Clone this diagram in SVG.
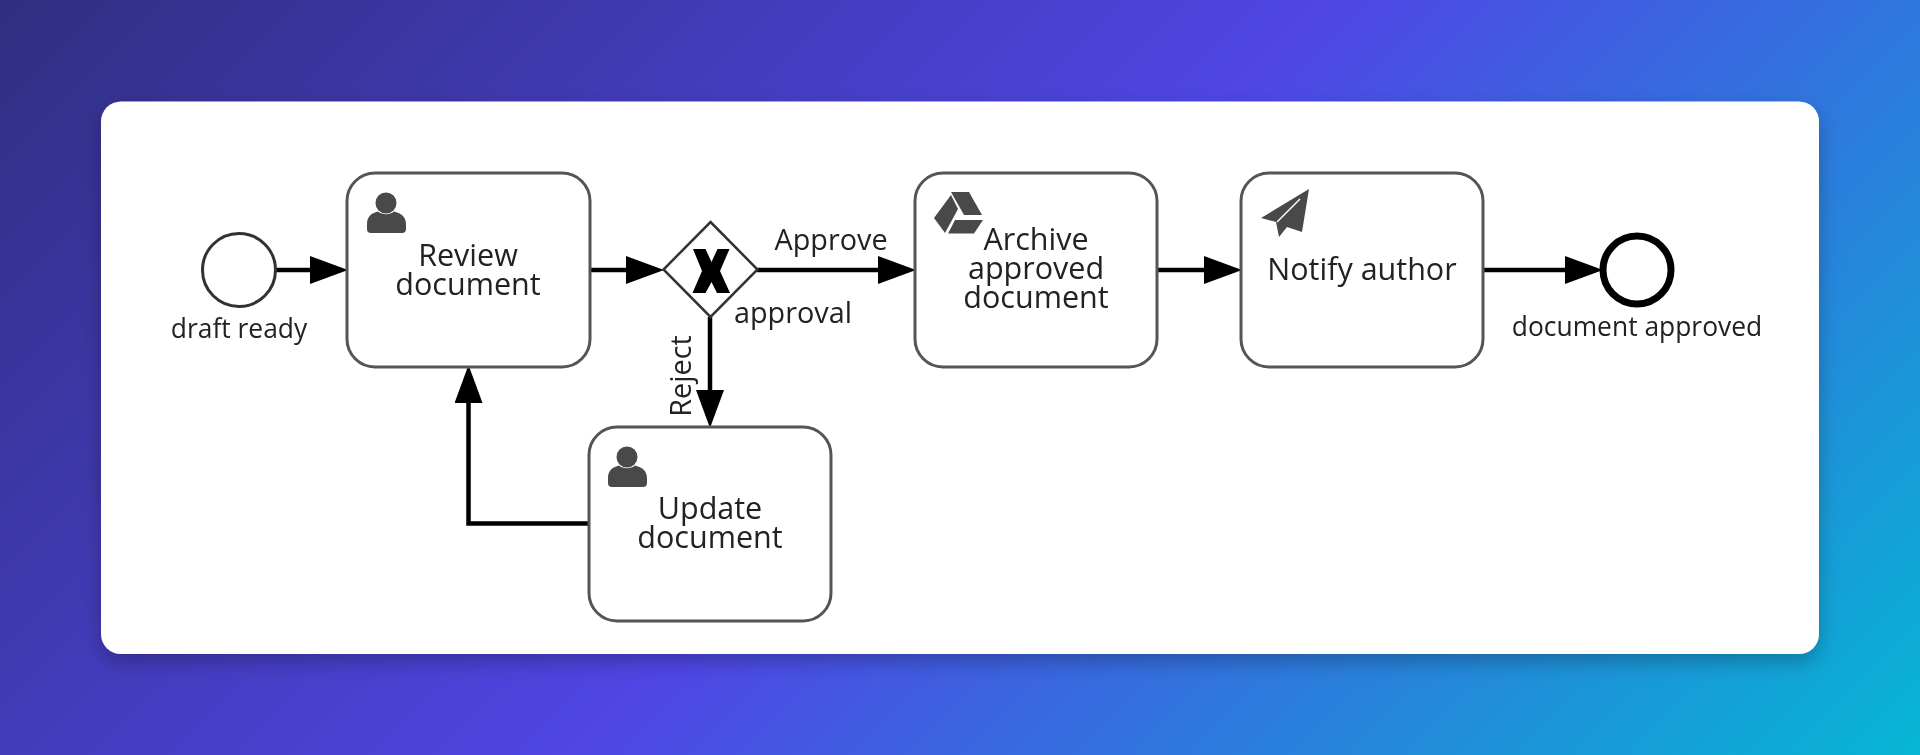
<svg xmlns="http://www.w3.org/2000/svg" width="1920" height="755" viewBox="0 0 1920 755">
<defs>
<linearGradient id="bg" gradientUnits="userSpaceOnUse" x1="291.3" y1="-291.2" x2="1628.7" y2="1046.2">
<stop offset="0" stop-color="#312e81"/><stop offset="0.5" stop-color="#4f46e5"/><stop offset="1" stop-color="#06b6d4"/>
</linearGradient>
<filter id="sh" x="-5%" y="-10%" width="110%" height="125%"><feDropShadow dx="0" dy="8" stdDeviation="10" flood-color="#000" flood-opacity="0.25"/></filter>
<filter id="soft" filterUnits="userSpaceOnUse" x="101" y="101" width="1718" height="553"><feGaussianBlur stdDeviation="0.6"/></filter>
<marker id="arrow" markerUnits="userSpaceOnUse" markerWidth="40" markerHeight="30" refX="28" refY="14" orient="auto"><path d="M0 0L38 14L0 28Z" fill="#000"/></marker>
<symbol id="user" overflow="visible"><circle cx="19" cy="11" r="10.500"/><path d="M0 32C0 24 5 21 11 19.500C15 23 23 23 27 19.500C33 21 39 24 39 32L39 37Q39 41 35 41L4 41Q0 41 0 37Z"/></symbol>
</defs>
<style>
.task{fill:#fff;stroke:#555;stroke-width:3}
.t{font-family:"Open Sans","Noto Sans",sans-serif;font-size:30.500px;fill:#222;text-anchor:middle}
.l{font-family:"Open Sans","Noto Sans",sans-serif;font-size:26.400px;fill:#222;text-anchor:middle}
.f{font-family:"Open Sans","Noto Sans",sans-serif;font-size:28.800px;fill:#222;text-anchor:middle}
.icon{fill:#484848}
.flow{fill:none;stroke:#000;stroke-width:4.500;marker-end:url(#arrow)}
</style>
<rect width="1920" height="755" fill="url(#bg)"/>
<rect id="card" x="101" y="101.500" width="1718" height="552.500" rx="20" fill="#fff" filter="url(#sh)"/>
<g filter="url(#soft)">
<g id="connectors">
<path class="flow" d="M275 270H338"/>
<path class="flow" d="M590 270H654"/>
<path class="flow" d="M757 270H906"/>
<path class="flow" d="M1157 270H1232"/>
<path class="flow" d="M1483 270H1593"/>
<path class="flow" d="M710 317V418"/>
<path class="flow" d="M589 523.500H468.500V375"/>
</g>
<g id="start"><circle cx="239" cy="270" r="36.500" fill="#fff" stroke="#333" stroke-width="3"/><text class="l" x="239" y="338">draft ready</text></g>
<g id="review"><rect class="task" x="347" y="173" width="243" height="194" rx="28"/><use href="#user" class="icon" x="367" y="192"/><text class="t" x="468" y="266">Review</text><text class="t" x="468" y="295">document</text></g>
<g id="gateway"><path d="M710.500 222L757.500 269.500L710.500 317L663.500 269.500Z" fill="#fff" stroke="#333" stroke-width="2.500"/><path d="M693 249H705.500L711.500 262L717.500 249H729.500L720 271L730 293H717L711.500 282L705.500 293H692.500L702 271Z" fill="#000"/><text class="f" x="793" y="323">approval</text></g>
<text class="f" x="831" y="250">Approve</text>
<text class="f" transform="translate(691 376) rotate(-90)">Reject</text>
<g id="archive"><rect class="task" x="915" y="173" width="242" height="194" rx="28"/>
<path class="icon" d="M934 218L951 195L958 209L945 233Z"/><path class="icon" d="M951 192H969L982 215H964Z"/><path class="icon" d="M955 220H983L974 233.500H948Z"/>
<text class="t" x="1036" y="250">Archive</text><text class="t" x="1036" y="279">approved</text><text class="t" x="1036" y="308">document</text></g>
<g id="notify"><rect class="task" x="1241" y="173" width="242" height="194" rx="28"/>
<path class="icon" d="M1309 189L1302 232L1287 227L1279 237L1276 222L1261 218Z"/><path d="M1300 199L1277 222" stroke="#fff" stroke-width="1.500" fill="none"/>
<text class="t" x="1362" y="280">Notify author</text></g>
<g id="end"><circle cx="1637" cy="270" r="34" fill="#fff" stroke="#000" stroke-width="7"/><text class="l" x="1637" y="336">document approved</text></g>
<g id="update"><rect class="task" x="589" y="427" width="242" height="194" rx="28"/><use href="#user" class="icon" x="608" y="446"/><text class="t" x="710" y="519">Update</text><text class="t" x="710" y="548">document</text></g>
</g>
</svg>
